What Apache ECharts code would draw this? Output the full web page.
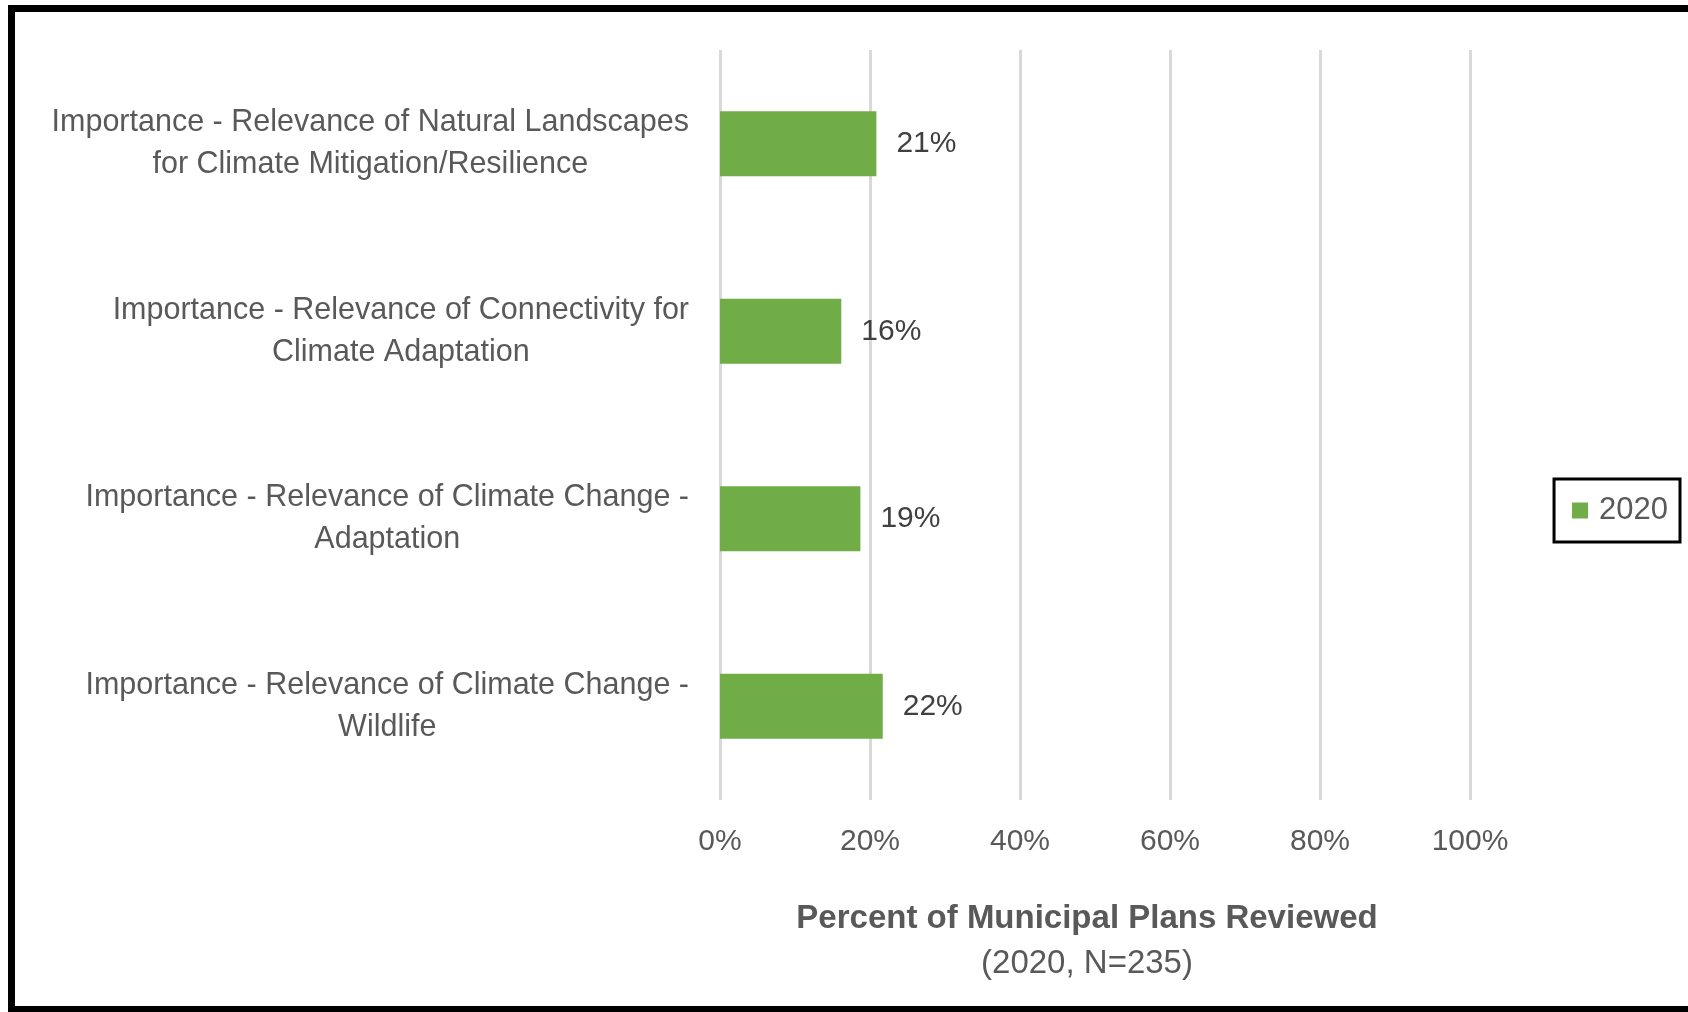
<!DOCTYPE html>
<html>
<head>
<meta charset="utf-8">
<script src="https://cdn.jsdelivr.net/npm/echarts@6/dist/echarts.min.js"></script>
<style>
  html, body { margin: 0; padding: 0; background: #fff; }
  #chart { width: 1688px; height: 1012px; }
</style>
</head>
<body>
<div id="chart"></div>
<script>
// categories top to bottom, as printed on the chart
var categories = [
  'Importance - Relevance of Natural Landscapes\nfor Climate Mitigation/Resilience',
  'Importance - Relevance of Connectivity for\nClimate Adaptation',
  'Importance - Relevance of Climate Change -\nAdaptation',
  'Importance - Relevance of Climate Change -\nWildlife'
];
var seriesName = '2020';
var values = [20.85, 16.17, 18.72, 21.70]; // percent of 235 plans
var xTicks = [0, 20, 40, 60, 80, 100];

var textColor = '#595959';
var fontFam = 'Liberation Sans';

var chart = echarts.init(document.getElementById('chart'));

var option = {
  animation: false,
  textStyle: { fontFamily: fontFam },
  graphic: [{
    type: 'rect',
    shape: { x: 11.5, y: 8.5, width: 1700, height: 1001 },
    style: { fill: 'none', stroke: '#000', lineWidth: 7 },
    silent: true
  }],
  legend: {
    data: [seriesName],
    right: 8,
    top: 479,
    orient: 'vertical',
    icon: 'rect',
    itemWidth: 16,
    itemHeight: 16,
    padding: [16, 12, 16, 18],
    borderColor: '#000',
    borderWidth: 3,
    textStyle: { color: textColor, fontSize: 31, fontFamily: fontFam, padding: [0, 0, 0, 6] }
  },
  grid: {
    left: 720,
    right: 218,
    top: 50,
    bottom: 212,
    containLabel: false,
    outerBoundsMode: 'none'
  },
  xAxis: {
    type: 'value',
    min: xTicks[0],
    max: xTicks[xTicks.length - 1],
    interval: 20,
    axisLine: { show: false },
    axisTick: { show: false },
    splitLine: { lineStyle: { color: '#D9D9D9', width: 3 } },
    axisLabel: {
      color: textColor,
      fontSize: 30,
      margin: 27,
      formatter: function (v) { return v + '%'; }
    },
    name: '{b|Percent of Municipal Plans Reviewed}\n{n|(2020, N=235)}',
    nameLocation: 'middle',
    nameGap: 96,
    nameTextStyle: {
      color: textColor,
      padding: [0, 16, 0, 0],
      rich: {
        b: { fontSize: 33, fontWeight: 'bold', color: textColor, lineHeight: 45, align: 'center', fontFamily: fontFam },
        n: { fontSize: 33, color: textColor, lineHeight: 45, align: 'center', fontFamily: fontFam }
      }
    }
  },
  yAxis: {
    type: 'category',
    inverse: true,
    data: categories,
    axisLine: { show: false },
    axisTick: { show: false },
    splitLine: { show: false },
    axisLabel: {
      margin: 31,
      align: 'right',
      formatter: function (v) {
        return v.split('\n').map(function (s) { return '{c|' + s + '}'; }).join('\n');
      },
      rich: {
        c: { fontSize: 30.5, color: textColor, lineHeight: 42, align: 'center', fontFamily: fontFam }
      }
    }
  },
  series: [{
    name: seriesName,
    type: 'bar',
    data: values,
    barWidth: 65,
    itemStyle: { color: '#70AD47' },
    label: {
      show: true,
      position: 'right',
      distance: 20,
      color: '#404040',
      fontSize: 30,
      formatter: function (p) { return Math.round(p.value) + '%'; }
    }
  }]
};

chart.setOption(option);
</script>
</body>
</html>
